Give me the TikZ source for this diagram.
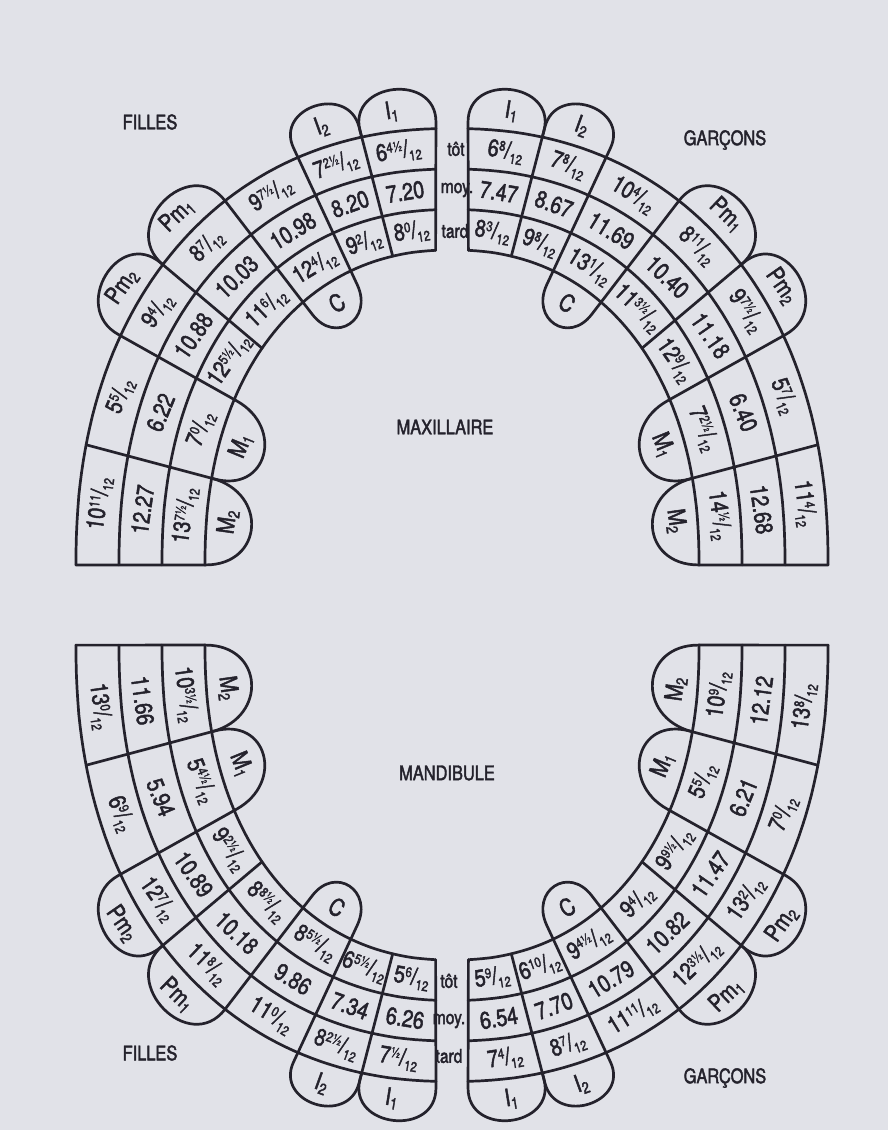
\documentclass[tikz,border=0pt]{standalone}
\usepackage{fontspec}
\setmainfont{TeX Gyre Heros}[FakeStretch=0.82, FakeBold=2]
\usetikzlibrary{calc}
\definecolor{chink}{RGB}{36,34,44}
\definecolor{chpaper}{RGB}{225,226,232}
\newcommand{\mfr}[2]{\raisebox{0.55ex}{\scriptsize #1}/\raisebox{-0.35ex}{\scriptsize #2}}
\def\chang{{2.3,12,22,35,48.5,60.5,76,90}}
\def\teethul{1/{6\mfr{4½}{12}}/7.20/{8\mfr{0}{12}}, 2/{7\mfr{2½}{12}}/8.20/{9\mfr{2}{12}},
  3/{9\mfr{7½}{12}}/10.98/{12\mfr{4}{12}}, 4/{8\mfr{7}{12}}/10.03/{11\mfr{6}{12}},
  5/{9\mfr{4}{12}}/10.88/{12\mfr{5½}{12}}, 6/{5\mfr{5}{12}}/6.22/{7\mfr{0}{12}},
  7/{10\mfr{11}{12}}/12.27/{13\mfr{7½}{12}}}
\def\teethur{1/{6\mfr{8}{12}}/7.47/{8\mfr{3}{12}}, 2/{7\mfr{8}{12}}/8.67/{9\mfr{8}{12}},
  3/{10\mfr{4}{12}}/11.69/{13\mfr{1}{12}}, 4/{8\mfr{11}{12}}/10.40/{11\mfr{3½}{12}},
  5/{9\mfr{7½}{12}}/11.18/{12\mfr{9}{12}}, 6/{5\mfr{7}{12}}/6.40/{7\mfr{2½}{12}},
  7/{11\mfr{4}{12}}/12.68/{14\mfr{½}{12}}}
\def\teethll{1/{5\mfr{6}{12}}/6.26/{7\mfr{½}{12}}, 2/{6\mfr{5½}{12}}/7.34/{8\mfr{2½}{12}},
  3/{8\mfr{5½}{12}}/9.86/{11\mfr{0}{12}}, 4/{8\mfr{8½}{12}}/10.18/{11\mfr{8}{12}},
  5/{9\mfr{2½}{12}}/10.89/{12\mfr{7}{12}}, 6/{5\mfr{4½}{12}}/5.94/{6\mfr{9}{12}},
  7/{10\mfr{3½}{12}}/11.66/{13\mfr{0}{12}}}
\def\teethlr{1/{5\mfr{9}{12}}/6.54/{7\mfr{4}{12}}, 2/{6\mfr{10}{12}}/7.70/{8\mfr{7}{12}},
  3/{9\mfr{4½}{12}}/10.79/{11\mfr{11}{12}}, 4/{9\mfr{4}{12}}/10.82/{12\mfr{3½}{12}},
  5/{9\mfr{9½}{12}}/11.47/{13\mfr{2}{12}}, 6/{5\mfr{5}{12}}/6.21/{7\mfr{0}{12}},
  7/{10\mfr{9}{12}}/12.12/{13\mfr{8}{12}}}

\begin{document}
\begin{tikzpicture}[x=0.5pt, y=-0.5pt,
  declare function={
    sx(\a,\k)=(247+43*\k)*pow(abs(sin(\a))+0.0001,0.909);
    sy(\a,\k)=(315+40.5*\k)*pow(abs(cos(\a))+0.0001,0.909);
    rt(\q,\a)=atan2(121.5*pow(abs(cos(\a))+0.0001,0.909),(\q)*129*pow(abs(sin(\a))+0.0001,0.909))-90;
  },
  ink/.style={draw=chink, line width=1.35pt, line join=round, line cap=round},
  cell/.style={text=chink, inner sep=0pt, font=\fontsize{12}{14}\selectfont},
  tablab/.style={text=chink, inner sep=0pt, font=\fontsize{12}{14}\selectfont},
  band/.style={text=chink, inner sep=0pt, font=\fontsize{9.5}{11}\selectfont},
  title/.style={text=chink, inner sep=0pt, font=\fontsize{10}{12}\selectfont},
]
\fill[chpaper] (0,0) rectangle (888,1130);
\useasboundingbox (0,0) rectangle (888,1130);

\foreach \h/\hs/\vs/\cy in {ul/-1/1/565, ur/1/1/565, ll/-1/-1/645, lr/1/-1/645} {
  \foreach \k in {0,...,3} {
    \pgfmathsetmacro\tz{asin(pow(16/(247+43*\k),1.1))}
    \coordinate (\h-0-\k) at ({452+(\hs)*sx(\tz,\k)}, {\cy-(\vs)*sy(\tz,\k)});
    \foreach \i in {1,...,7} {
      \pgfmathsetmacro\w{\chang[\i]}
      \coordinate (\h-\i-\k) at ({452+(\hs)*sx(\w,\k)}, {\cy-(\vs)*sy(\w,\k)});
    }
    \draw[ink] plot[domain=\tz:90, samples=60, variable=\u] ({452+(\hs)*sx(\u,\k)}, {\cy-(\vs)*sy(\u,\k)});
  }
  \foreach \i in {0,...,7}
    \draw[ink] (\h-\i-0) -- (\h-\i-3);
  \foreach \j/\kb/\ko/\kl/\lab in {1/3/0/3.5/{I\textsubscript{1}}, 2/3/0/3.5/{I\textsubscript{2}},
      3/0/3/-0.5/C, 4/3/0/3.5/{Pm\textsubscript{1}}, 5/3/0/3.5/{Pm\textsubscript{2}},
      6/0/3/-0.5/{M\textsubscript{1}}, 7/0/3/-0.5/{M\textsubscript{2}}} {
    \pgfmathtruncatemacro\i{\j-1}
    \pgfmathsetmacro\wa{\chang[\i]}
    \pgfmathsetmacro\wb{\chang[\j]}
    \pgfmathsetmacro\w{(\wa+\wb)/2}
    \pgfmathsetmacro\rr{rt((\hs)*(\vs),\w)}
    \draw[ink] let \p1=(\h-\i-\kb), \p2=(\h-\j-\kb),
        \n1={veclen(\x2-\x1,\y2-\y1)/2},
        \n2={max(0pt,22pt-\n1)},
        \n3={\n2+4/3*min(\n1,22pt)} in
      (\h-\i-\kb) -- ($(\h-\i-\kb)!\n2!180:(\h-\i-\ko)$)
      .. controls ($(\h-\i-\kb)!\n3!180:(\h-\i-\ko)$) and ($(\h-\j-\kb)!\n3!180:(\h-\j-\ko)$)
      .. ($(\h-\j-\kb)!\n2!180:(\h-\j-\ko)$) -- (\h-\j-\kb);
    \node[tablab, rotate=\rr] (\h-\j-tab) at ({452+(\hs)*sx(\w,\kl)}, {\cy-(\vs)*sy(\w,\kl)}) {\lab};
  }
}

\foreach \h/\hs/\vs/\cy in {ul/-1/1/565, ur/1/1/565, ll/-1/-1/645, lr/1/-1/645} {
  \expandafter\let\expandafter\chdata\csname teeth\h\endcsname
  \foreach \j/\ea/\eb/\ec in \chdata {
    \pgfmathtruncatemacro\i{\j-1}
    \pgfmathsetmacro\wa{\chang[\i]}
    \pgfmathsetmacro\wb{\chang[\j]}
    \pgfmathsetmacro\w{(\wa+\wb)/2}
    \pgfmathsetmacro\rr{rt((\hs)*(\vs),\w)}
    \foreach \m/\txt in {0/\ea, 1/\eb, 2/\ec} {
      \pgfmathsetmacro\kc{1.5+(\vs)*(1-\m)}
      \node[cell, rotate=\rr] (\h-\j-\m) at ({452+(\hs)*sx(\w,\kc)}, {\cy-(\vs)*sy(\w,\kc)}) {\txt};
    }
  }
}

\node[band] (tot-u) at (456,149) {tôt};
\node[band] (moy-u) at (457,190) {moy.};
\node[band] (tard-u) at (455,231) {tard};
\node[band] (tot-l) at (449,981) {tôt};
\node[band] (moy-l) at (449,1021) {moy.};
\node[band] (tard-l) at (449,1056) {tard};

\node[title] (filles-u) at (150,122) {FILLES};
\node[title] (garcons-u) at (725,140) {GARÇONS};
\node[title] (maxi) at (445,427) {MAXILLAIRE};
\node[title] (mandi) at (447,773) {MANDIBULE};
\node[title] (filles-l) at (150,1053) {FILLES};
\node[title] (garcons-l) at (725,1078) {GARÇONS};
\end{tikzpicture}
\end{document}
